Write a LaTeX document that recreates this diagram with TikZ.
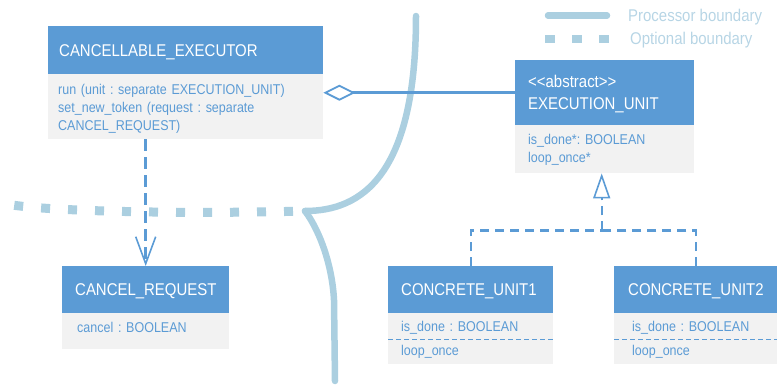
\documentclass[tikz,border=0pt]{standalone}
\usepackage{fontspec}
\setmainfont[FakeStretch=0.88]{Liberation Sans}
\usetikzlibrary{arrows.meta}
\definecolor{umlblue}{HTML}{5B9BD5}
\definecolor{umlgrey}{HTML}{F2F2F2}
\definecolor{bound}{HTML}{ABCFE0}
\definecolor{legtxt}{HTML}{B7D5E5}
\newcommand\hdrfont{\fontsize{17}{22}\selectfont}
\newcommand\cmpfont{\fontsize{14.2}{18}\selectfont}
\newcommand\legfont{\fontsize{17}{20}\selectfont}
\newcommand\ltlt{<\kern0pt<}
\newcommand\gtgt{>\kern0pt>}
\frenchspacing
\begin{document}
\begin{tikzpicture}[x=1pt,y=-1pt,
  classhead/.style={fill=umlblue,text=white,anchor=north west,inner ysep=0pt,
    align=left,font=\hdrfont,text depth=0pt},
  compart/.style={fill=umlgrey,text=umlblue,anchor=north west,inner ysep=0pt,
    align=left,font=\cmpfont,text depth=0pt},
  legtext/.style={anchor=base west,inner sep=0pt,text=legtxt,font=\legfont},
  procline/.style={draw=bound,line width=6.5pt,line cap=round},
  optline/.style={draw=bound,line width=9pt,dash pattern=on 9pt off 18pt},
  aggregation/.style={draw=umlblue,line width=2.7pt,
    -{Diamond[open,length=32pt,width=16pt,line width=1.8pt]}},
  dependency/.style={draw=umlblue,line width=2.6pt,dash pattern=on 12pt off 6pt,
    -{Straight Barb[length=27pt,width=20pt,line width=1.6pt]}},
  realization/.style={draw=umlblue,line width=2.2pt,dash pattern=on 9pt off 6pt},
  separator/.style={draw=umlblue,line width=1.7pt,dash pattern=on 5pt off 3pt}]
\useasboundingbox (0,0) rectangle (777,386);

% legend
\draw[procline] (548,15.5) -- (607,15.5);
\draw[optline,line width=8pt,dash pattern=on 10pt off 17pt] (545,39) -- (610,39);
\node[legtext] (legproc) at (628,21) {Processor boundary};
\node[legtext] (legopt) at (630,44) {Optional boundary};

% processor boundary and optional boundary
\draw[procline] (416,16) .. controls (416,175) and (362,211) .. (305,211);
\draw[procline] (305,211) .. controls (318,228) and (332,262) .. (334,300) -- (335,381);
\draw[optline,dash phase=15pt] (305,211) .. controls (200,214) and (60,212) .. (12,205);

% classes
\node[classhead,inner xsep=11pt,text width=253pt,minimum height=48pt] (cehead) at (48,26)
  {CANCELLABLE\_EXECUTOR};
\node[compart,inner xsep=10pt,text width=255pt,minimum height=65pt,text depth=35pt] (cebody) at (48,74)
  {run (unit : separate EXECUTION\_UNIT)\\set\_new\_token (request : separate\\CANCEL\_REQUEST)};

\node[classhead,inner xsep=13pt,text width=153pt,minimum height=65pt,text depth=23pt] (euhead) at (515,60)
  {\ltlt abstract\gtgt\\EXECUTION\_UNIT};
\node[compart,inner xsep=13pt,text width=153pt,minimum height=48pt,text depth=20pt] (eubody) at (515,125)
  {is\_done*: BOOLEAN\\loop\_once*};

\node[classhead,inner xsep=13pt,text width=141pt,minimum height=47pt] (crhead) at (62,266)
  {CANCEL\_REQUEST};
\node[compart,inner xsep=15pt,text width=137pt,minimum height=36pt,text depth=8pt] (crbody) at (62,313)
  {cancel : BOOLEAN};

\node[classhead,inner xsep=13pt,text width=139pt,minimum height=47pt] (cu1head) at (388,266)
  {CONCRETE\_UNIT1};
\node[compart,inner xsep=13pt,text width=139pt,minimum height=26pt] (cu1attr) at (388,313)
  {is\_done : BOOLEAN};
\node[compart,inner xsep=13pt,text width=139pt,minimum height=25pt,text depth=2pt] (cu1ops) at (388,339)
  {loop\_once};

\node[classhead,inner xsep=14pt,text width=135pt,minimum height=47pt] (cu2head) at (614,266)
  {CONCRETE\_UNIT2};
\node[compart,inner xsep=18pt,text width=127pt,minimum height=26pt] (cu2attr) at (614,313)
  {is\_done : BOOLEAN};
\node[compart,inner xsep=18pt,text width=127pt,minimum height=25pt,text depth=2pt] (cu2ops) at (614,339)
  {loop\_once};

\draw[separator] (cu1attr.south west) -- (cu1attr.south east);
\draw[separator] (cu2attr.south west) -- (cu2attr.south east);

% connectors
\draw[aggregation] (euhead.west) -- (euhead.west -| cebody.east);
\draw[dependency] (crhead.north |- cebody.south) -- (crhead.north);

\path (eubody.south) ++(-3,57) coordinate (split);
\draw[realization] (cu1head.north) |- (split);
\draw[realization] (cu2head.north) |- (split);
\draw[realization,-{Triangle[open,length=25pt,width=17pt,line width=1.6pt]}]
  (split) -- (split |- eubody.south);
\end{tikzpicture}
\end{document}
